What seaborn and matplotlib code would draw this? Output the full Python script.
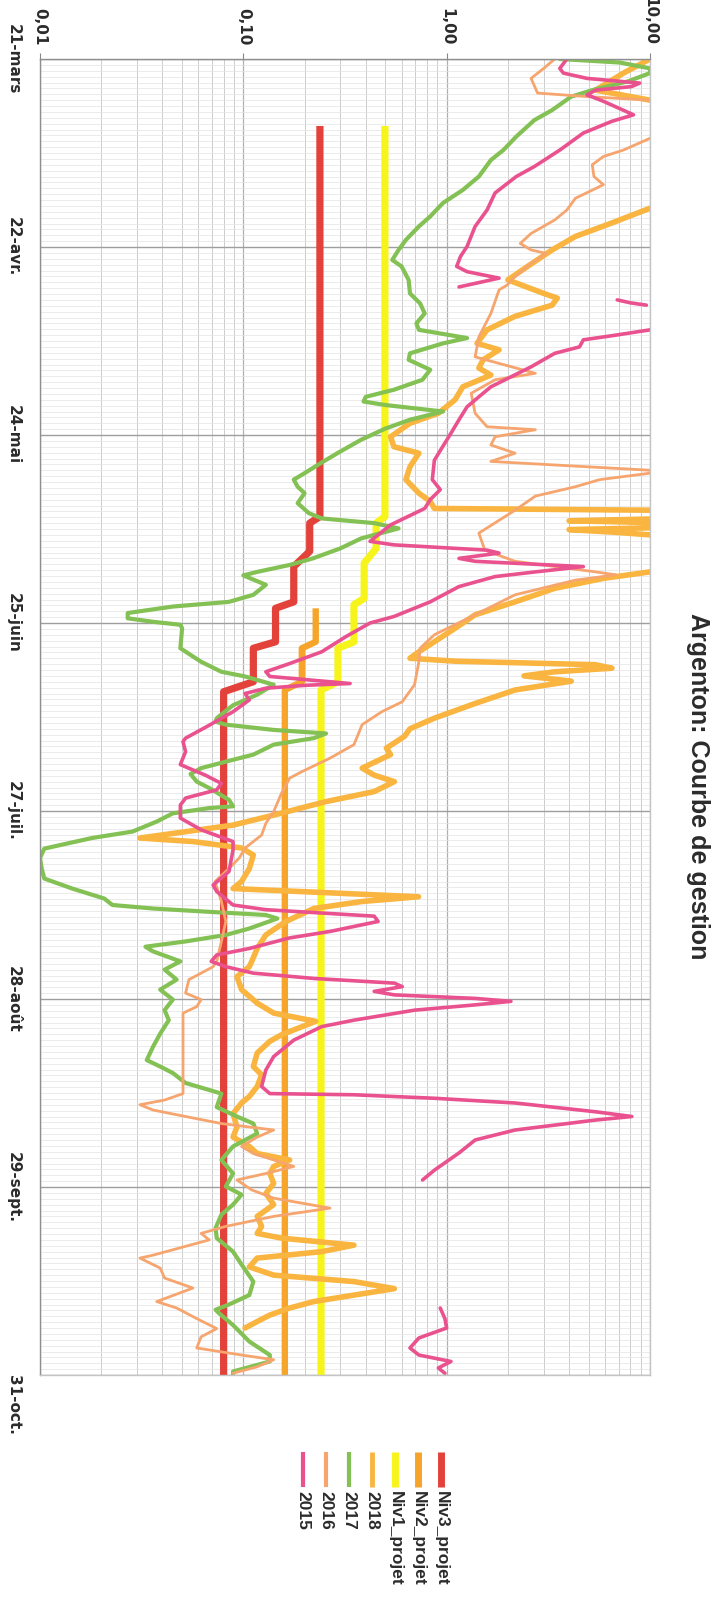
import numpy as np
import pandas as pd
import matplotlib
matplotlib.use('Agg')
import matplotlib.pyplot as plt
from matplotlib.lines import Line2D
from matplotlib.ticker import LogLocator, MultipleLocator, NullFormatter
import seaborn as sns

# Axes : jour compté depuis le 21 mars, débit en échelle log
jours_ticks = [0, 32, 64, 96, 128, 160, 192, 224]
dates_labels = ['21-mars', '22-avr.', '24-mai', '25-juin', '27-juil.', '28-août', '29-sept.', '31-oct.']
debit_ticks = [0.01, 0.1, 1, 10]
debit_labels = ['0,01', '0,10', '1,00', '10,00']

# Courbes de gestion (jour, débit)
niv3 = [(11.4, 0.238), (77.9, 0.238), (79.0, 0.212), (83.8, 0.212), (86.4, 0.177), (92.4, 0.177),
        (93.5, 0.144), (99.2, 0.144), (100.3, 0.112), (106.0, 0.112), (107.7, 0.080), (224, 0.080)]
niv2 = [(93.5, 0.227), (99.2, 0.227), (100.3, 0.194), (106.0, 0.194), (107.4, 0.160), (224, 0.160)]
niv1 = [(11.4, 0.497), (77.9, 0.497), (79.0, 0.450), (83.3, 0.450), (85.8, 0.393), (91.8, 0.393),
        (92.9, 0.350), (99.2, 0.350), (100.3, 0.292), (106.0, 0.292), (107.4, 0.241), (224, 0.241)]

# Débits observés (valeurs > 10 : hors graphique)
q2018 = [(0, 10), (2.4, 7.4), (5.3, 5.4), (7.0, 10), (7.5, 20), (25.0, 20), (25.4, 10), (27.9, 6.5),
         (30.2, 4.3), (32.5, 3.3), (35.3, 2.5), (37.6, 2.0), (39.9, 3.0), (40.7, 3.5), (41.9, 3.3),
         (43.8, 2.17), (46.1, 1.58), (48.4, 1.41), (49.5, 1.81), (51.2, 1.51), (52.6, 1.44), (53.8, 1.65),
         (55.8, 1.2), (58.0, 1.1), (60.3, 0.91), (62.0, 0.66), (64.3, 0.53), (66.0, 0.55), (67.1, 0.73),
         (69.4, 0.66), (71.6, 0.63), (73.9, 0.73), (75.3, 0.83), (76.5, 0.87), (76.8, 10), (77.0, 20),
         (78.0, 20), (78.3, 10), (78.6, 4.0), (78.9, 10), (79.1, 20), (79.5, 20), (79.8, 10), (80.1, 4.0),
         (80.6, 7.0), (81.0, 10), (81.3, 20), (87.0, 20), (87.3, 10), (88.4, 5.9), (90.1, 3.4), (92.4, 2.17),
         (94.6, 1.38), (96.9, 1.1), (99.2, 0.87), (100.9, 0.73), (102.0, 0.66), (102.5, 1.1), (103.1, 5.4),
         (103.7, 6.5), (104.3, 3.4), (105.0, 2.4), (105.9, 4.1), (107.4, 2.17), (109.7, 1.38), (112.2, 0.87),
         (114.0, 0.66), (115.3, 0.62), (117.3, 0.505), (118.4, 0.53), (120.7, 0.384), (121.9, 0.44),
         (123.0, 0.553), (124.7, 0.44), (126.4, 0.255), (128.7, 0.141), (130.4, 0.089), (132.6, 0.031),
         (133.2, 0.0565), (134.3, 0.098), (135.5, 0.112), (137.8, 0.107), (140.0, 0.098), (141.2, 0.089),
         (142.6, 0.727), (143.4, 0.384), (144.6, 0.222), (146.8, 0.162), (149.1, 0.129), (151.4, 0.117),
         (153.6, 0.11), (154.5, 0.107), (156.2, 0.093), (158.4, 0.098), (160.7, 0.117), (162.4, 0.141),
         (163.8, 0.227), (165.0, 0.185), (166.1, 0.154), (167.2, 0.135), (169.2, 0.117), (171.5, 0.112),
         (172.9, 0.123), (174.9, 0.117), (176.6, 0.107), (177.7, 0.098), (179.5, 0.089), (181.8, 0.093),
         (183.5, 0.089), (185.1, 0.107), (186.3, 0.117), (187.4, 0.169), (188.5, 0.141), (189.7, 0.135),
         (191.4, 0.141), (193.1, 0.129), (195.0, 0.141), (197.0, 0.117), (198.7, 0.123), (199.9, 0.117),
         (200.7, 0.154), (201.9, 0.35), (203.0, 0.243), (204.1, 0.117), (205.6, 0.107), (207.0, 0.141),
         (208.1, 0.35), (209.3, 0.553), (210.4, 0.35), (211.5, 0.222), (212.6, 0.169), (213.8, 0.135),
         (214.9, 0.117), (216.0, 0.102)]

q2017 = [(0, 3.6), (0.6, 7.1), (1.6, 10), (2.4, 10), (3.8, 7.8), (5.3, 5.2), (6.4, 4.1), (8.7, 3.3),
         (10.4, 2.7), (13.2, 2.2), (15.5, 1.9), (17.2, 1.65), (20.0, 1.44), (22.3, 1.2), (24.5, 0.96),
         (26.8, 0.83), (28.5, 0.73), (30.8, 0.63), (32.5, 0.58), (34.2, 0.54), (35.3, 0.6), (37.6, 0.65),
         (39.9, 0.66), (41.6, 0.74), (43.3, 0.78), (45.0, 0.71), (46.1, 0.73), (47.5, 1.26), (48.4, 0.96),
         (50.1, 0.66), (51.2, 0.65), (52.9, 0.83), (54.6, 0.76), (56.3, 0.55), (57.5, 0.40), (58.3, 0.39),
         (58.9, 0.5), (60.0, 0.96), (61.4, 0.66), (62.9, 0.5), (64.8, 0.38), (67.1, 0.29), (68.8, 0.24),
         (70.5, 0.2), (71.6, 0.177), (72.8, 0.185), (73.9, 0.2), (75.6, 0.185), (77.3, 0.21), (78.2, 0.243),
         (79.0, 0.44), (79.9, 0.58), (81.6, 0.38), (83.3, 0.3), (85.0, 0.22), (86.1, 0.17), (87.3, 0.117),
         (87.9, 0.1), (89.5, 0.129), (91.2, 0.112), (92.4, 0.085), (93.2, 0.045), (94.3, 0.027),
         (95.2, 0.027), (95.8, 0.036), (96.3, 0.049), (96.9, 0.05), (100.3, 0.049), (102.6, 0.062),
         (104.3, 0.078), (105.1, 0.102), (106.5, 0.141), (108.2, 0.117), (110.0, 0.089), (112.2, 0.074),
         (112.8, 0.073), (113.3, 0.082), (114.2, 0.141), (114.8, 0.255), (115.6, 0.222), (116.7, 0.141),
         (118.4, 0.112), (119.6, 0.082), (120.7, 0.062), (121.7, 0.055), (123.0, 0.059), (124.1, 0.068),
         (126.1, 0.085), (127.2, 0.089), (127.5, 0.068), (128.4, 0.045), (129.8, 0.0375), (131.5, 0.0285),
         (132.6, 0.018), (134.4, 0.0105), (136.0, 0.0100), (137.8, 0.0102), (139.5, 0.0105), (141.2, 0.0144),
         (142.9, 0.0207), (144.0, 0.0227), (144.6, 0.036), (145.2, 0.071), (145.7, 0.129), (146.3, 0.147),
         (148.0, 0.107), (149.1, 0.082), (150.2, 0.052), (151.1, 0.033), (151.9, 0.036), (153.6, 0.049),
         (155.0, 0.041), (156.7, 0.047), (158.4, 0.039), (160.1, 0.045), (161.9, 0.041), (163.6, 0.043),
         (165.9, 0.039), (168.1, 0.036), (170.4, 0.0335), (171.5, 0.039), (172.6, 0.045), (174.3, 0.052),
         (175.5, 0.068), (176.1, 0.078), (178.4, 0.074), (180.0, 0.093), (181.2, 0.112), (182.9, 0.117),
         (185.1, 0.089), (187.4, 0.078), (189.7, 0.089), (191.9, 0.082), (193.3, 0.098), (195.0, 0.089),
         (196.7, 0.078), (199.0, 0.073), (200.7, 0.074), (203.0, 0.089), (205.2, 0.098), (208.1, 0.112),
         (210.4, 0.107), (212.0, 0.085), (212.9, 0.073), (213.5, 0.076), (215.5, 0.089), (218.3, 0.107),
         (220.6, 0.135), (221.7, 0.135), (223.4, 0.089), (224, 0.089)]

q2016 = [(0, 3.4), (1.6, 3.0), (3.3, 2.6), (5.8, 2.8), (6.4, 4.9), (7.0, 10), (7.5, 20), (13.0, 20),
         (13.5, 10), (15.5, 7.4), (16.6, 5.9), (18.0, 5.2), (20.0, 5.3), (21.4, 5.9), (23.7, 4.3),
         (25.7, 3.9), (27.4, 3.4), (29.7, 2.6), (31.4, 2.3), (32.5, 2.6), (33.1, 3.1), (34.8, 2.6),
         (37.0, 2.17), (38.5, 1.98), (39.3, 1.81), (43.3, 1.65), (47.3, 1.44), (50.7, 1.38), (53.5, 2.73),
         (54.6, 1.73), (56.9, 1.32), (60.3, 1.38), (62.6, 1.58), (63.1, 2.73), (64.3, 1.73), (65.7, 1.65),
         (67.1, 2.17), (68.5, 1.65), (70.0, 10), (70.3, 20), (70.5, 10), (71.6, 5.65), (72.8, 4.3),
         (74.4, 2.73), (76.8, 2.17), (80.7, 1.44), (83.6, 1.54), (85.5, 2.17), (87.3, 5.4), (87.8, 6.8),
         (88.7, 4.3), (91.2, 2.17), (94.6, 1.38), (98.0, 0.87), (100.3, 0.74), (102.6, 0.73), (106.5, 0.695),
         (109.4, 0.605), (111.1, 0.48), (113.3, 0.384), (116.7, 0.35), (119.0, 0.267), (121.3, 0.194),
         (122.4, 0.169), (125.0, 0.154), (128.1, 0.141), (130.1, 0.129), (132.1, 0.123), (134.3, 0.102),
         (136.0, 0.0955), (137.8, 0.085), (140.0, 0.0726), (143.4, 0.078), (146.8, 0.082), (150.2, 0.078),
         (153.6, 0.074), (154.5, 0.071), (155.6, 0.062), (156.7, 0.054), (159.0, 0.052), (160.1, 0.062),
         (161.3, 0.059), (162.4, 0.0505), (176.1, 0.0505), (177.2, 0.041), (178.0, 0.031), (178.9, 0.036),
         (180.0, 0.052), (181.2, 0.078), (182.3, 0.141), (183.5, 0.117), (185.1, 0.098), (186.3, 0.112),
         (187.4, 0.141), (188.5, 0.177), (189.7, 0.129), (190.8, 0.093), (192.5, 0.11), (193.9, 0.141),
         (195.6, 0.267), (197.0, 0.141), (198.7, 0.082), (199.9, 0.062), (201.0, 0.068), (203.6, 0.036),
         (204.1, 0.031), (205.8, 0.039), (207.5, 0.041), (209.2, 0.0565), (211.5, 0.0375), (212.6, 0.047),
         (214.4, 0.059), (216.1, 0.074), (217.5, 0.062), (219.4, 0.059), (220.6, 0.098), (221.4, 0.141),
         (222.6, 0.117), (223.7, 0.089)]

# 2015 : plusieurs morceaux (lacunes dans les mesures)
q2015_a = [(0, 3.9), (1.6, 3.6), (2.4, 3.75), (3.3, 4.9), (4.1, 8.9), (4.7, 8.1), (5.3, 5.4), (6.1, 4.9),
           (7.2, 5.9), (9.5, 8.3), (10.6, 6.5), (12.6, 4.7), (15.5, 3.6), (18.3, 2.7), (20.0, 2.2),
           (22.8, 1.73), (25.7, 1.58), (28.5, 1.38), (31.9, 1.26), (33.6, 1.17), (35.3, 1.12), (36.2, 1.26),
           (37.3, 1.81), (37.9, 1.51), (38.8, 1.15)]
q2015_b = [(41.0, 6.9), (41.5, 8.0), (41.9, 9.6)]
q2015_c = [(46.1, 10), (47.0, 6.8), (47.8, 4.7), (49.0, 4.5), (50.1, 3.4), (52.4, 2.6), (54.1, 2.07),
           (55.8, 1.65), (57.5, 1.44), (59.2, 1.26), (61.4, 1.15), (63.7, 1.05), (66.0, 0.955), (68.3, 0.87),
           (71.6, 0.85), (73.3, 0.93), (75.0, 0.83), (76.5, 0.78), (79.3, 0.53), (82.1, 0.42), (82.7, 0.55),
           (83.6, 1.58), (84.1, 1.81), (85.0, 1.15), (85.5, 1.38), (86.4, 4.7), (87.3, 2.73), (88.1, 1.73),
           (89.8, 1.15), (92.4, 0.83), (94.9, 0.55), (96.0, 0.42), (98.3, 0.32), (100.9, 0.243),
           (102.9, 0.169), (104.3, 0.129), (105.1, 0.135), (105.7, 0.212), (106.3, 0.335), (106.6, 0.203),
           (107.1, 0.129), (108.0, 0.102), (109.1, 0.107), (111.1, 0.089), (113.4, 0.068), (115.6, 0.052),
           (116.2, 0.0505), (117.9, 0.052), (120.1, 0.049), (121.9, 0.065), (123.3, 0.078), (124.4, 0.074),
           (125.8, 0.052), (127.0, 0.049), (129.2, 0.049), (131.2, 0.062), (133.2, 0.089), (134.6, 0.089),
           (138.3, 0.085), (140.6, 0.071), (141.7, 0.074), (144.0, 0.089), (144.8, 0.129), (145.9, 0.44),
           (146.8, 0.46), (148.5, 0.267), (149.6, 0.169), (151.4, 0.107), (152.5, 0.074), (153.6, 0.0695),
           (154.5, 0.082), (155.6, 0.112), (156.5, 0.222), (157.3, 0.553), (157.9, 0.605), (158.7, 0.44),
           (159.3, 0.553), (159.9, 1.38), (160.4, 2.07), (161.0, 1.38), (161.9, 0.695), (163.6, 0.35),
           (164.7, 0.243), (167.0, 0.177), (169.8, 0.141), (172.1, 0.129), (174.9, 0.123), (176.1, 0.135),
           (176.3, 0.35), (176.9, 0.873), (177.7, 2.17), (179.2, 5.41), (180.0, 8.14), (180.6, 5.41),
           (182.3, 2.17), (184.0, 1.38), (186.2, 1.15), (189.1, 0.873), (190.8, 0.761)]
q2015_d = [(212.6, 0.93), (214.4, 0.98), (216.0, 1.0), (217.7, 0.73), (219.4, 0.66), (220.6, 0.73),
           (221.7, 1.05), (222.8, 0.91), (223.7, 0.98)]

c_niv3, c_niv2, c_niv1 = '#e3423b', '#f6a52a', '#f7f41c'
c_2018, c_2017, c_2016, c_2015 = '#f9b540', '#84c154', '#f6a56e', '#e9528e'

sns.set_theme(style='white')
plt.rcParams['font.family'] = ['DejaVu Sans']

W, H = 712, 1597
fig = plt.figure(figsize=(W / 100, H / 100), dpi=100)
fig.patch.set_facecolor('white')
ax = fig.add_axes([40 / W, 1 - 1375 / H, 610 / W, 1316 / H])
ax.set_xscale('log')


def trace(points, couleur, epaisseur, cap='round'):
    df = pd.DataFrame(points, columns=['jour', 'debit'])
    sns.lineplot(data=df, x='debit', y='jour', sort=False, estimator=None, color=couleur,
                 lw=epaisseur, ax=ax, solid_capstyle=cap, solid_joinstyle='round')


trace(niv3, c_niv3, 5.2, 'butt')
trace(niv2, c_niv2, 4.6, 'butt')
trace(niv1, c_niv1, 5.2, 'butt')
trace(q2018, c_2018, 4.0)
trace(q2017, c_2017, 3.0)
trace(q2016, c_2016, 2.0)
for seg in (q2015_a, q2015_b, q2015_c, q2015_d):
    trace(seg, c_2015, 2.6)

ax.set_xlim(0.01, 10)
ax.set_ylim(224, 0)
ax.set_xlabel('')
ax.set_ylabel('')

ax.set_xticks(debit_ticks)
ax.set_xticklabels(debit_labels, rotation=-90, fontsize=11, fontweight='bold', color='#2b2b2b')
ax.xaxis.set_minor_locator(LogLocator(base=10, subs=np.arange(2, 10)))
ax.xaxis.set_minor_formatter(NullFormatter())
ax.xaxis.tick_top()

ax.set_yticks(jours_ticks)
ax.set_yticklabels(dates_labels, rotation=-90, fontsize=11, fontweight='bold', color='#2b2b2b', va='center')
ax.yaxis.set_minor_locator(MultipleLocator(1))
ax.get_yticklabels()[-1].set_va('top')

ax.tick_params(axis='x', which='major', length=4, width=0.8, color='#888888', pad=6)
ax.tick_params(axis='y', which='major', length=4, width=0.8, color='#888888', pad=10)
ax.tick_params(which='minor', length=0)

ax.grid(True, which='minor', axis='y', color='#e3e3e3', lw=0.5)
ax.grid(True, which='major', axis='y', color='#9e9e9e', lw=1.0)
ax.grid(True, which='minor', axis='x', color='#cdcdcd', lw=0.7)
ax.grid(True, which='major', axis='x', color='#b0b0b0', lw=0.9)
ax.set_axisbelow(True)

for nom, s in ax.spines.items():
    s.set_color('#8e8e8e' if nom in ('top', 'left') else '#c4c4c4')
    s.set_linewidth(1.0)

fig.text(698 / W, 1 - 786 / H, 'Argenton: Courbe de gestion', rotation=-90, ha='center', va='center',
         fontsize=18, fontweight='bold', family='Liberation Sans', color='#2b2b2b')

# légende faite à la main (tournée comme le graphique)
legende = [('Niv3_projet', c_niv3, 5.0), ('Niv2_projet', c_niv2, 5.0), ('Niv1_projet', c_niv1, 5.0),
           ('2018', c_2018, 3.5), ('2017', c_2017, 3.0), ('2016', c_2016, 3.0), ('2015', c_2015, 3.0)]
for i, (nom, c, lw) in enumerate(legende):
    x = (441 - 23 * i) / W
    fig.add_artist(Line2D([x, x], [1 - 1452 / H, 1 - 1487 / H], transform=fig.transFigure,
                          color=c, lw=lw, solid_capstyle='butt'))
    fig.text(x, 1 - 1491 / H, nom, rotation=-90, va='top', ha='center', fontsize=12.5,
             fontweight='bold', family='Liberation Sans', color='#2b2b2b')

fig.savefig('out.png', dpi=100)
